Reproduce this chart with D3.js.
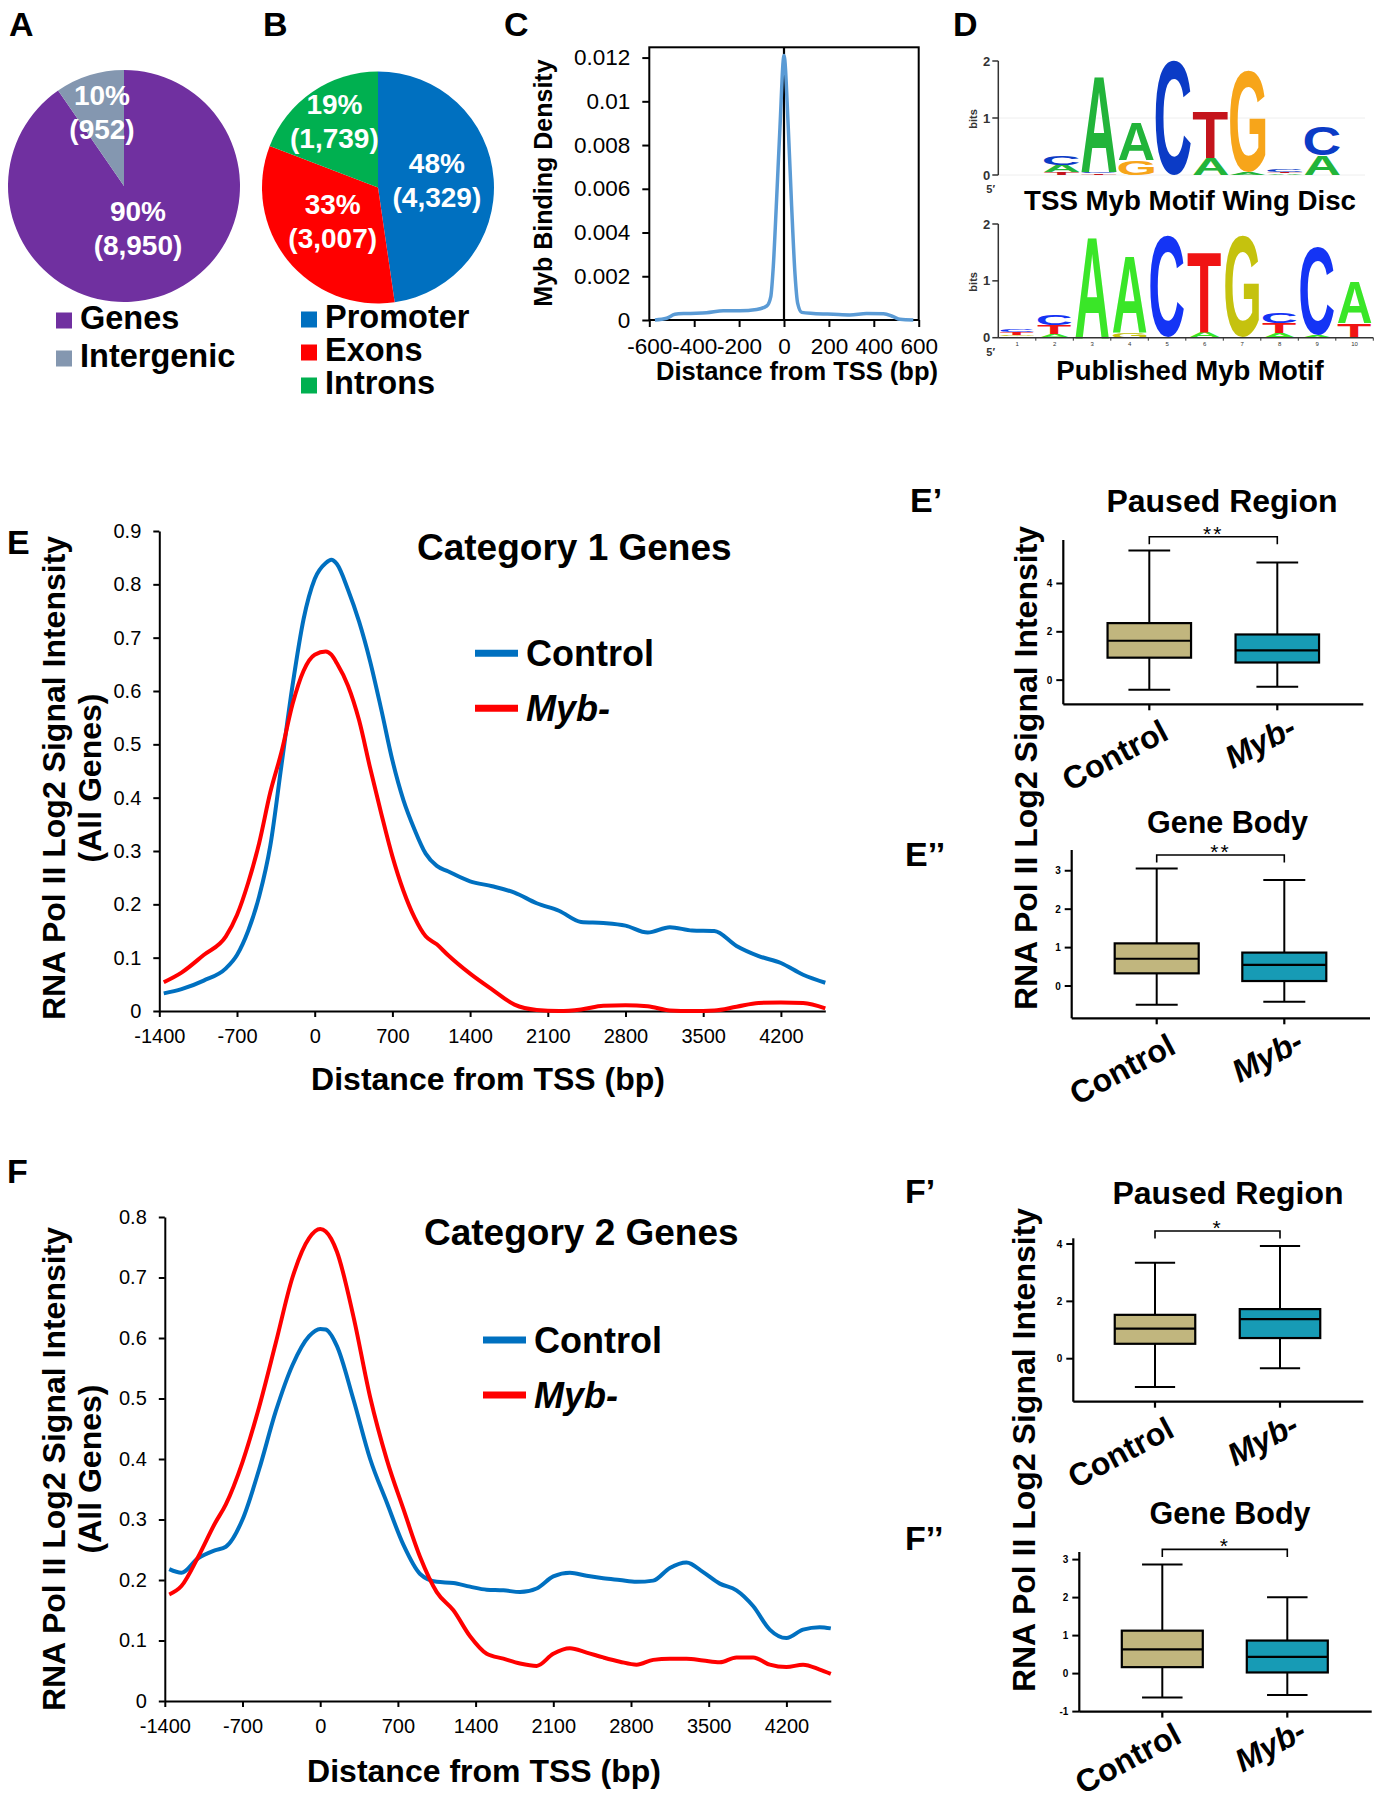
<!DOCTYPE html>
<html><head><meta charset="utf-8">
<script src="https://cdn.jsdelivr.net/npm/d3@7"></script>
<style>
body{margin:0;background:#fff;}
svg text{font-family:"Liberation Sans",Arial,Helvetica,sans-serif;}
</style></head>
<body><svg id="fig" width="1382" height="1800"></svg>
<script>
// ================= DATA =================
const pieALabels = ["Genes", "Intergenic"];
const pieACounts = [8950, 952];
const pieAPct = ["90%", "10%"];

const pieBLabels = ["Promoter", "Exons", "Introns"];
const pieBCounts = [4329, 3007, 1739];
const pieBPct = ["48%", "33%", "19%"];

const cDist = [-575,-523,-486,-434,-345,-270,-196,-122,-77,-59,-48,-33,-18,0,19,34,49,61,79,131,220,294,368,443,487,517,576];
const cDensity = [0,0.00008,0.00026,0.0003,0.00033,0.00042,0.00042,0.00048,0.00064,0.00106,0.0024,0.0055,0.0088,0.0121,0.0088,0.0052,0.0021,0.00076,0.00035,0.0003,0.00026,0.00023,0.0003,0.00029,0.00015,0.00003,0];
const cXTicks = [-600,-400,-200,0,200,400,600];
const cYTicks = [0,0.002,0.004,0.006,0.008,0.01,0.012];
const cYTickLabels = ["0","0.002","0.004","0.006","0.008","0.01","0.012"];

// sequence logos: each column is a stack (bottom -> top) of [letter, bits]
const logoTSS = [
  [["T",0.05],["A",0.13],["C",0.17]],
  [["T",0.03],["C",0.03],["A",1.68]],
  [["G",0.26],["A",0.67]],
  [["C",2.0]],
  [["A",0.29],["T",0.82]],
  [["A",0.05],["G",1.78]],
  [["A",0.03],["T",0.03],["C",0.04]],
  [["A",0.35],["C",0.5]]
];
const logoPublished = [
  [["A",0.03],["G",0.02],["T",0.05],["C",0.05]],
  [["A",0.07],["T",0.15],["C",0.18]],
  [["A",1.78]],
  [["G",0.1],["A",1.34]],
  [["C",1.78]],
  [["A",0.1],["T",1.41]],
  [["G",1.78]],
  [["A",0.08],["T",0.18],["C",0.18]],
  [["A",0.05],["C",1.55]],
  [["T",0.25],["A",0.74]]
];
const logoBitTicks = [0,1,2];

// Category 1 genes (E)
const eDist = [-1360,-1200,-1000,-800,-700,-600,-500,-400,-300,-200,-100,0,100,150,200,300,400,500,600,700,800,900,1000,1100,1200,1400,1600,1800,2000,2200,2400,2600,2800,3000,3200,3400,3600,3800,4000,4200,4400,4600];
const eControl = [0.033,0.041,0.057,0.08,0.105,0.15,0.215,0.31,0.46,0.61,0.735,0.81,0.84,0.846,0.838,0.79,0.73,0.655,0.565,0.47,0.395,0.34,0.295,0.272,0.262,0.243,0.234,0.222,0.202,0.188,0.167,0.165,0.16,0.147,0.157,0.151,0.15,0.122,0.103,0.09,0.068,0.053];
const eMyb = [0.054,0.072,0.105,0.14,0.18,0.24,0.315,0.41,0.485,0.575,0.638,0.668,0.674,0.668,0.652,0.61,0.545,0.455,0.37,0.29,0.225,0.175,0.14,0.125,0.105,0.07,0.04,0.012,0.002,0.0,0.003,0.01,0.011,0.009,0.001,0.0,0.001,0.008,0.015,0.016,0.015,0.005];

// Category 2 genes (F)
const fDist = [-1360,-1250,-1100,-950,-850,-700,-550,-400,-250,-100,0,50,150,300,450,600,750,900,1050,1200,1350,1500,1650,1800,1950,2100,2250,2400,2550,2700,2850,3000,3150,3300,3450,3600,3750,3900,4050,4200,4350,4500,4600];
const fControl = [0.218,0.212,0.236,0.249,0.255,0.30,0.383,0.479,0.555,0.603,0.615,0.614,0.587,0.498,0.40,0.328,0.258,0.21,0.197,0.195,0.189,0.184,0.183,0.18,0.186,0.206,0.212,0.207,0.203,0.2,0.197,0.199,0.22,0.229,0.213,0.194,0.183,0.157,0.118,0.104,0.118,0.122,0.12];
const fMyb = [0.176,0.19,0.238,0.293,0.325,0.395,0.486,0.592,0.70,0.765,0.78,0.776,0.743,0.635,0.502,0.399,0.317,0.238,0.18,0.15,0.107,0.078,0.07,0.062,0.058,0.078,0.087,0.08,0.072,0.065,0.06,0.068,0.07,0.07,0.067,0.064,0.072,0.072,0.06,0.056,0.06,0.052,0.045];

const profileXTicks = [-1400,-700,0,700,1400,2100,2800,3500,4200];
const eYTicks = [0,0.1,0.2,0.3,0.4,0.5,0.6,0.7,0.8,0.9];
const fYTicks = [0,0.1,0.2,0.3,0.4,0.5,0.6,0.7,0.8];
const seriesNames = ["Control", "Myb-"];

// box plots: [min, Q1, median, Q3, max] for Control, Myb-
const boxCategories = ["Control", "Myb-"];
const ePaused = [[-0.40,0.93,1.63,2.36,5.37],[-0.27,0.73,1.23,1.89,4.87]];
const eBody   = [[-0.49,0.33,0.71,1.11,3.06],[-0.41,0.13,0.55,0.87,2.76]];
const fPaused = [[-0.99,0.52,1.05,1.53,3.35],[-0.33,0.72,1.38,1.73,3.93]];
const fBody   = [[-0.63,0.17,0.64,1.13,2.87],[-0.56,0.03,0.44,0.87,2.01]];
const ePausedTicks = [0,2,4], eBodyTicks = [0,1,2,3], fPausedTicks = [0,2,4], fBodyTicks = [-1,0,1,2,3];
const ePausedSig = "**", eBodySig = "**", fPausedSig = "*", fBodySig = "*";

// ================= STYLE =================
const pieAColors = ["#7030A0", "#8497B0"];
const pieBColors = ["#0070C0", "#FF0000", "#00B050"];
const lineColors = ["#0070C0", "#FF0000"];
const boxColors = ["#C1B67E", "#179BB5"];
const logoTopColors = {A:"#22B43A", C:"#0B3BC6", G:"#F7A51A", T:"#C4141C"};
const logoBotColors = {A:"#3AE628", C:"#1434F5", G:"#C5C20E", T:"#F01414"};
const FONT = '"Liberation Sans", Arial, sans-serif';

const svg = d3.select("#fig");

function addText(x, y, s, o = {}) {
  const t = svg.append("text")
    .attr("x", x).attr("y", y)
    .attr("font-size", o.size || 20)
    .attr("font-weight", o.weight || "normal")
    .attr("text-anchor", o.anchor || "start")
    .attr("fill", o.fill || "#000")
    .text(s);
  if (o.italic) t.attr("font-style", "italic");
  if (o.ls) t.attr("letter-spacing", o.ls);
  if (o.rotate) t.attr("transform", `rotate(${o.rotate},${x},${y})`);
  return t;
}
function line(x1, y1, x2, y2, w = 2, c = "#000") {
  svg.append("line").attr("x1", x1).attr("y1", y1).attr("x2", x2).attr("y2", y2)
    .attr("stroke", c).attr("stroke-width", w);
}

// ================= PANEL LABELS =================
[["A",9,36],["B",263,36],["C",504,36],["D",953,36],["E",7,554],["E’",910,512],["E’’",905,866],["F",7,1183],["F’",905,1203],["F’’",905,1550]]
  .forEach(([s,x,y]) => addText(x, y, s, {size: 34, weight: "bold"}));

// ================= PIES =================
function pie(cx, cy, r, counts, pcts, colors, labelR) {
  const arcs = d3.pie().sort(null).value(d => d)(counts);
  const g = svg.append("g").attr("transform", `translate(${cx},${cy})`);
  g.selectAll("path").data(arcs).join("path")
    .attr("d", d3.arc().innerRadius(0).outerRadius(r))
    .attr("fill", (d, i) => colors[i]);
  arcs.forEach((d, i) => {
    const c = d3.arc().innerRadius(labelR[i]).outerRadius(labelR[i]).centroid(d);
    g.append("text").attr("x", c[0]).attr("y", c[1] - 10).attr("text-anchor", "middle")
      .attr("font-size", 28).attr("font-weight", "bold").attr("fill", "#fff").text(pcts[i]);
    g.append("text").attr("x", c[0]).attr("y", c[1] + 24).attr("text-anchor", "middle")
      .attr("font-size", 28).attr("font-weight", "bold").attr("fill", "#fff")
      .text("(" + d3.format(",")(counts[i]) + ")");
  });
}
pie(124, 186, 116, pieACounts, pieAPct, pieAColors, [47, 74]);
pie(378, 187.5, 116, pieBCounts, pieBPct, pieBColors, [59, 58, 77]);

function legend(x, y0, dy, labels, colors, size) {
  labels.forEach((l, i) => {
    const y = y0 + i * dy;
    svg.append("rect").attr("x", x).attr("y", y - 16).attr("width", 16).attr("height", 16).attr("fill", colors[i]);
    addText(x + 24, y, l, {size: size, weight: "bold"});
  });
}
legend(56, 328.5, 38, pieALabels, pieAColors, 32.5);
legend(301, 327.5, 33, pieBLabels, pieBColors, 32.5);

// ================= PANEL C =================
(function () {
  const L = 649.3, R = 918.7, T = 47.3, B = 320;
  const x = d3.scaleLinear().domain([-600, 600]).range([L, R]);
  const y = d3.scaleLinear().domain([0, 0.01247]).range([B, T]);
  svg.append("rect").attr("x", L).attr("y", T).attr("width", R - L).attr("height", B - T)
    .attr("fill", "none").attr("stroke", "#000").attr("stroke-width", 2);
  const gx = svg.append("g").attr("transform", `translate(0,${B})`)
    .call(d3.axisBottom(x).tickValues(cXTicks).tickSize(7).tickSizeOuter(0).tickPadding(11).tickFormat(d => String(d)));
  const gy = svg.append("g").attr("transform", `translate(${L},0)`)
    .call(d3.axisLeft(y).tickValues(cYTicks).tickSize(7).tickSizeOuter(0).tickPadding(12).tickFormat((d, i) => cYTickLabels[i]));
  [gx, gy].forEach(g => {
    g.select(".domain").remove();
    g.selectAll("line").attr("stroke-width", 2);
    g.selectAll("text").attr("font-size", 22.5).attr("font-family", FONT).attr("fill", "#000");
  });
  line(x(0), T, x(0), B, 2.2);
  svg.append("path").datum(cDist.map((d, i) => [d, cDensity[i]]))
    .attr("d", d3.line().x(d => x(d[0])).y(d => y(d[1])).curve(d3.curveMonotoneX))
    .attr("fill", "none").attr("stroke", "#5B9BD5").attr("stroke-width", 3.5);
  addText(797, 380, "Distance from TSS (bp)", {size: 25.5, weight: "bold", anchor: "middle"});
  addText(552, 183, "Myb Binding Density", {size: 25, weight: "bold", anchor: "middle", rotate: -90});
})();

// ================= PANEL D (logos) =================
const cv = document.createElement("canvas").getContext("2d");
function inkBox(ch) {
  cv.font = `bold 100px ${FONT}`;
  const m = cv.measureText(ch);
  return {l: -m.actualBoundingBoxLeft, r: m.actualBoundingBoxRight, t: -m.actualBoundingBoxAscent, b: m.actualBoundingBoxDescent};
}
function drawLetter(ch, x0, yTop, w, h, color) {
  if (h < 0.4) return;
  const b = inkBox(ch);
  const sx = w / (b.r - b.l), sy = h / (b.b - b.t);
  svg.append("text").attr("x", 0).attr("y", 0).attr("font-size", 100).attr("font-weight", "bold")
    .attr("fill", color).attr("transform", `translate(${x0 - b.l * sx},${yTop - b.t * sy}) scale(${sx},${sy})`).text(ch);
}
function logo(cols, xs, ys, colors) {
  cols.forEach((stack, i) => {
    let acc = 0;
    stack.forEach(([ch, bits]) => {
      const y0 = ys(acc), y1 = ys(acc + bits);
      drawLetter(ch, xs(i), y1, xs.bandwidth(), y0 - y1, colors[ch]);
      acc += bits;
    });
  });
}
function logoAxis(axX, ys) {
  line(axX, ys(2), axX, ys(0), 1.5, "#333");
  logoBitTicks.forEach(t => {
    line(axX - 6, ys(t), axX, ys(t), 1.5, "#333");
    addText(axX - 8, ys(t) + 4.5, String(t), {size: 13, weight: "bold", anchor: "end", fill: "#333"});
  });
  addText(axX - 21, (ys(0) + ys(2)) / 2 + 1, "bits", {size: 11, weight: "bold", anchor: "middle", fill: "#333", rotate: -90});
  addText(axX - 12, ys(0) + 18, "5′", {size: 11, weight: "bold", fill: "#333"});
}
(function () {
  const ysT = d3.scaleLinear().domain([0, 2]).range([175, 61]);
  const xsT = d3.scaleBand().domain(d3.range(logoTSS.length)).range([1044, 1340]).paddingInner(0.05);
  [0, 1].forEach(v => line(998, ysT(v), 1365, ysT(v), 1, "#eee"));
  logoAxis(998.3, ysT);
  logo(logoTSS, xsT, ysT, logoTopColors);
  addText(1190, 210, "TSS Myb Motif Wing Disc", {size: 27.7, weight: "bold", anchor: "middle"});

  const ysB = d3.scaleLinear().domain([0, 2]).range([337.7, 224]);
  const xsB = d3.scaleBand().domain(d3.range(logoPublished.length)).range([998.3, 1373.3]).paddingInner(0.1).paddingOuter(0.05);
  logoAxis(998.3, ysB);
  logo(logoPublished, xsB, ysB, logoBotColors);
  line(998.3, ysB(0), 1373.3, ysB(0), 1.5, "#333");
  const step = xsB.step();
  d3.range(logoPublished.length).forEach(i => {
    const cx = xsB(i) + xsB.bandwidth() / 2;
    line(cx + step / 2, ysB(0), cx + step / 2, ysB(0) + 3, 1, "#333");
    addText(cx, ysB(0) + 8, String(i + 1), {size: 6, anchor: "middle", fill: "#333"});
  });
  addText(1190, 380, "Published Myb Motif", {size: 27.5, weight: "bold", anchor: "middle"});
})();

// ================= PROFILE PANELS (E, F) =================
function profile(c, xsData, s1, s2, yTicks) {
  const x = d3.scaleLinear().domain([-1400, 4600]).range([c.L, c.L + 6000 * 0.111]);
  const y = d3.scaleLinear().domain([0, c.yMax]).range([c.B, c.T]);
  const gx = svg.append("g").attr("transform", `translate(0,${c.B})`)
    .call(d3.axisBottom(x).tickValues(profileXTicks).tickSize(6).tickSizeOuter(0).tickPadding(12).tickFormat(d => String(d)));
  const gy = svg.append("g").attr("transform", `translate(${c.L},0)`)
    .call(d3.axisLeft(y).tickValues(yTicks).tickSize(6).tickSizeOuter(0).tickPadding(12).tickFormat(d => d === 0 ? "0" : d3.format(".1f")(d)));
  [gx, gy].forEach(g => {
    g.select(".domain").attr("stroke-width", 2);
    g.selectAll("line").attr("stroke-width", 2);
    g.selectAll("text").attr("font-size", 20).attr("font-family", FONT).attr("fill", "#000");
  });
  [s1, s2].forEach((s, k) => {
    svg.append("path").datum(xsData.map((d, i) => [d, s[i]]))
      .attr("d", d3.line().x(d => x(d[0])).y(d => y(d[1])).curve(d3.curveMonotoneX))
      .attr("fill", "none").attr("stroke", lineColors[k]).attr("stroke-width", 4);
  });
  addText(c.titleX, c.titleY, c.title, {size: 37, weight: "bold"});
  seriesNames.forEach((n, k) => {
    const ly = c.legY + k * 55;
    line(c.legX, ly, c.legX + 43, ly, 7, lineColors[k]);
    addText(c.legX + 51, ly + 12.5, n, {size: 36, weight: "bold", italic: k === 1});
  });
  addText(c.xtX, c.xtY, "Distance from TSS (bp)", {size: 32, weight: "bold", anchor: "middle"});
  addText(64.5, c.ytY, "RNA Pol II Log2 Signal Intensity", {size: 32, weight: "bold", anchor: "middle", rotate: -90});
  addText(101, c.ytY, "(All Genes)", {size: 32, weight: "bold", anchor: "middle", rotate: -90});
}
profile({L: 159.3, T: 531, B: 1011, yMax: 0.9, title: "Category 1 Genes", titleX: 417, titleY: 560,
  legX: 475, legY: 653.3, xtX: 488, xtY: 1090, ytY: 778}, eDist, eControl, eMyb, eYTicks);
profile({L: 164.8, T: 1217, B: 1701, yMax: 0.8, title: "Category 2 Genes", titleX: 424, titleY: 1245,
  legX: 483, legY: 1340, xtX: 484, xtY: 1782, ytY: 1469}, fDist, fControl, fMyb, fYTicks);

// ================= BOX PLOTS =================
function boxPanel(c, stats, ticks, sig) {
  const y = d3.scaleLinear().domain(c.domain).range([c.B, c.T]);
  const x = d3.scalePoint().domain(boxCategories).range(c.cat);
  line(c.ax, c.T, c.ax, c.B, 2.2);
  line(c.ax, c.B, c.R, c.B, 2.2);
  ticks.forEach(t => {
    line(c.ax - 7, y(t), c.ax, y(t), 2);
    addText(c.ax - 11, y(t) + 3.5, String(t), {size: 10, weight: "bold", anchor: "end"});
  });
  boxCategories.forEach((cat, i) => {
    const cx = x(cat), s = stats[i], w = c.bw;
    line(cx, c.B, cx, c.B + 6, 2.2);
    line(cx, y(s[0]), cx, y(s[1]), 2);
    line(cx, y(s[3]), cx, y(s[4]), 2);
    line(cx - w / 4, y(s[0]), cx + w / 4, y(s[0]), 2);
    line(cx - w / 4, y(s[4]), cx + w / 4, y(s[4]), 2);
    svg.append("rect").attr("x", cx - w / 2).attr("y", y(s[3])).attr("width", w).attr("height", y(s[1]) - y(s[3]))
      .attr("fill", boxColors[i]).attr("stroke", "#000").attr("stroke-width", 2.2);
    line(cx - w / 2, y(s[2]), cx + w / 2, y(s[2]), 2.2);
    addText(cx + 21, c.B + (i === 0 ? c.labOff : c.labOff - 4), cat, {size: 32, weight: "bold", anchor: "end", rotate: -28, italic: i === 1});
  });
  const x0 = x(boxCategories[0]), x1 = x(boxCategories[1]);
  svg.append("path").attr("d", `M${x0},${c.br + 7.5}V${c.br}H${x1}V${c.br + 7.5}`)
    .attr("fill", "none").attr("stroke", "#000").attr("stroke-width", 1.6);
  addText((x0 + x1) / 2, c.br + 4, sig, {size: 21, anchor: "middle", ls: 2});
  addText(c.titleX, c.titleY, c.title, {size: c.titleSize, weight: "bold", anchor: "middle"});
}
boxPanel({domain: [-1, 5.8], B: 704.3, T: 540, ax: 1063.3, R: 1363.3, cat: [1149.3, 1277.3], bw: 83.5, labOff: 34,
  br: 536.7, title: "Paused Region", titleX: 1222, titleY: 512, titleSize: 32}, ePaused, ePausedTicks, ePausedSig);
boxPanel({domain: [-0.84, 3.54], B: 1018.3, T: 850, ax: 1071.7, R: 1370, cat: [1156.7, 1284.3], bw: 84, labOff: 34,
  br: 855, title: "Gene Body", titleX: 1227.5, titleY: 833, titleSize: 30.5}, eBody, eBodyTicks, eBodySig);
boxPanel({domain: [-1.5, 4.2], B: 1401.7, T: 1238.3, ax: 1073.3, R: 1363.3, cat: [1155, 1280], bw: 80.5, labOff: 34,
  br: 1231, title: "Paused Region", titleX: 1228, titleY: 1204, titleSize: 32}, fPaused, fPausedTicks, fPausedSig);
boxPanel({domain: [-1, 3.2], B: 1711.6, T: 1552, ax: 1079.3, R: 1371.7, cat: [1162.3, 1287.3], bw: 81, labOff: 30,
  br: 1549.4, title: "Gene Body", titleX: 1230, titleY: 1524, titleSize: 30.5}, fBody, fBodyTicks, fBodySig);

addText(1036.5, 768, "RNA Pol II Log2 Signal Intensity", {size: 32, weight: "bold", anchor: "middle", rotate: -90});
addText(1035, 1450, "RNA Pol II Log2 Signal Intensity", {size: 32, weight: "bold", anchor: "middle", rotate: -90});
</script>
</body></html>
